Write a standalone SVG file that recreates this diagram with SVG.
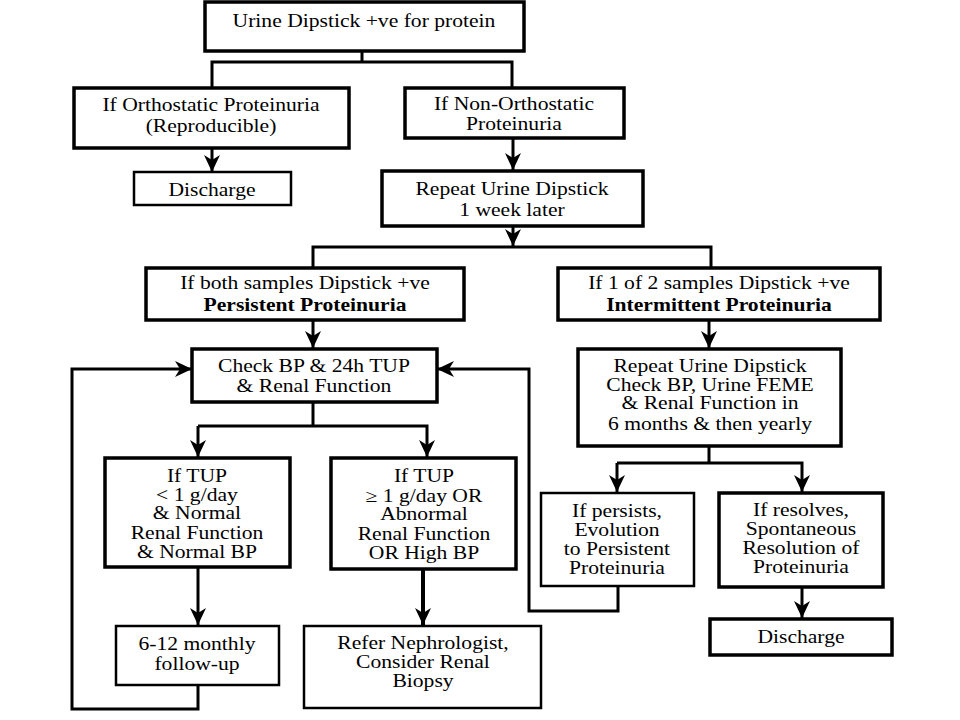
<svg xmlns="http://www.w3.org/2000/svg" width="960" height="720" viewBox="0 0 960 720">
<defs>
<marker id="ah" markerUnits="userSpaceOnUse" markerWidth="18" markerHeight="18" viewBox="0 0 18 18" refX="17" refY="9" orient="auto">
<path d="M0,1 L17,9 L0,17 L5,9 z" fill="#000"/>
</marker>
<style>
.b{fill:#fff;stroke:#000;stroke-width:3.5}
.t{fill:#fff;stroke:#000;stroke-width:2.5}
.c{fill:none;stroke:#000;stroke-width:3}
.a{fill:none;stroke:#000;stroke-width:3;marker-end:url(#ah)}
text{font-family:'Liberation Serif','DejaVu Serif',serif;font-size:18px;fill:#000;text-anchor:middle;transform-box:fill-box;transform-origin:center;transform:scaleX(1.2)}
.bold{font-weight:bold}
</style>
</defs>
<rect width="960" height="720" fill="#fff"/>
<g id="connectors">
<polyline class="c" points="362,50 362,62"/>
<polyline class="c" points="212,87 212,62 512,62 512,87"/>
<line class="a" x1="212" y1="148" x2="212" y2="172"/>
<line class="a" x1="513" y1="138" x2="513" y2="170"/>
<line class="a" x1="513" y1="226" x2="513" y2="246"/>
<polyline class="c" points="313,268 313,247 711,247 711,268"/>
<line class="a" x1="313" y1="320" x2="313" y2="348"/>
<polyline class="c" points="313,402 313,426"/>
<polyline class="a" points="198,426 198,457"/>
<polyline class="a" points="198,426 427,426 427,457"/>
<line class="a" x1="198" y1="567" x2="198" y2="625"/>
<line class="a" x1="423" y1="569" x2="423" y2="625" style="stroke-width:4"/>
<polyline class="a" points="198,685 198,709 72,709 72,369 192,369"/>
<polyline class="a" points="618,586 618,611 529,611 529,369 437,369"/>
<line class="a" x1="709" y1="320" x2="709" y2="348"/>
<polyline class="c" points="709,446 709,463"/>
<polyline class="a" points="617,463 617,492"/>
<polyline class="a" points="617,463 802,463 802,492"/>
<line class="a" x1="802" y1="587" x2="802" y2="618"/>
</g>
<g font-family="Liberation Serif, serif">
<g id="n1"><rect class="b" x="205" y="2" width="319" height="49"/><text x="364" y="27">Urine Dipstick +ve for protein</text></g>
<g id="n2"><rect class="b" x="74" y="88" width="275" height="60"/><text x="211" y="111">If Orthostatic Proteinuria</text><text x="211" y="132">(Reproducible)</text></g>
<g id="n3"><rect class="b" x="405" y="88" width="219" height="50"/><text x="514" y="110">If Non-Orthostatic</text><text x="514" y="130">Proteinuria</text></g>
<g id="n4"><rect class="t" x="134" y="172" width="157" height="33"/><text x="212" y="196">Discharge</text></g>
<g id="n5"><rect class="b" x="382" y="171" width="261" height="55"/><text x="512" y="195">Repeat Urine Dipstick</text><text x="512" y="216">1 week later</text></g>
<g id="n6"><rect class="b" x="146" y="268" width="318" height="52"/><text x="305" y="289">If both samples Dipstick +ve</text><text x="305" y="311" class="bold">Persistent Proteinuria</text></g>
<g id="n7"><rect class="b" x="558" y="268" width="322" height="52"/><text x="719" y="289">If 1 of 2 samples Dipstick +ve</text><text x="719" y="311" class="bold">Intermittent Proteinuria</text></g>
<g id="n8"><rect class="b" x="192" y="349" width="245" height="53"/><text x="314" y="372">Check BP &amp; 24h TUP</text><text x="314" y="392">&amp; Renal Function</text></g>
<g id="n9"><rect class="b" x="105" y="458" width="185" height="109"/><text x="197" y="482">If TUP</text><text x="197" y="501">&lt; 1 g/day</text><text x="197" y="519">&amp; Normal</text><text x="197" y="539">Renal Function</text><text x="197" y="558">&amp; Normal BP</text></g>
<g id="n10"><rect class="b" x="331" y="458" width="185" height="111"/><text x="424" y="482">If TUP</text><text x="424" y="502">≥ 1 g/day OR</text><text x="424" y="520">Abnormal</text><text x="424" y="540">Renal Function</text><text x="424" y="559">OR High BP</text></g>
<g id="n11"><rect class="t" x="116" y="626" width="163" height="59"/><text x="197" y="650">6-12 monthly</text><text x="197" y="670">follow-up</text></g>
<g id="n12"><rect class="t" x="304" y="626" width="237" height="82"/><text x="423" y="649">Refer Nephrologist,</text><text x="423" y="668">Consider Renal</text><text x="423" y="687">Biopsy</text></g>
<g id="n13"><rect class="b" x="578" y="349" width="263" height="97"/><text x="710" y="372">Repeat Urine Dipstick</text><text x="710" y="391">Check BP, Urine FEME</text><text x="710" y="409">&amp; Renal Function in</text><text x="710" y="430">6 months &amp; then yearly</text></g>
<g id="n14"><rect class="t" x="541" y="493" width="153" height="93"/><text x="617" y="517">If persists,</text><text x="617" y="536">Evolution</text><text x="617" y="555">to Persistent</text><text x="617" y="574">Proteinuria</text></g>
<g id="n15"><rect class="b" x="719" y="493" width="164" height="94"/><text x="801" y="516">If resolves,</text><text x="801" y="535">Spontaneous</text><text x="801" y="554">Resolution of</text><text x="801" y="573">Proteinuria</text></g>
<g id="n16"><rect class="b" x="710" y="619" width="182" height="36"/><text x="801" y="643">Discharge</text></g>
</g>
</svg>
